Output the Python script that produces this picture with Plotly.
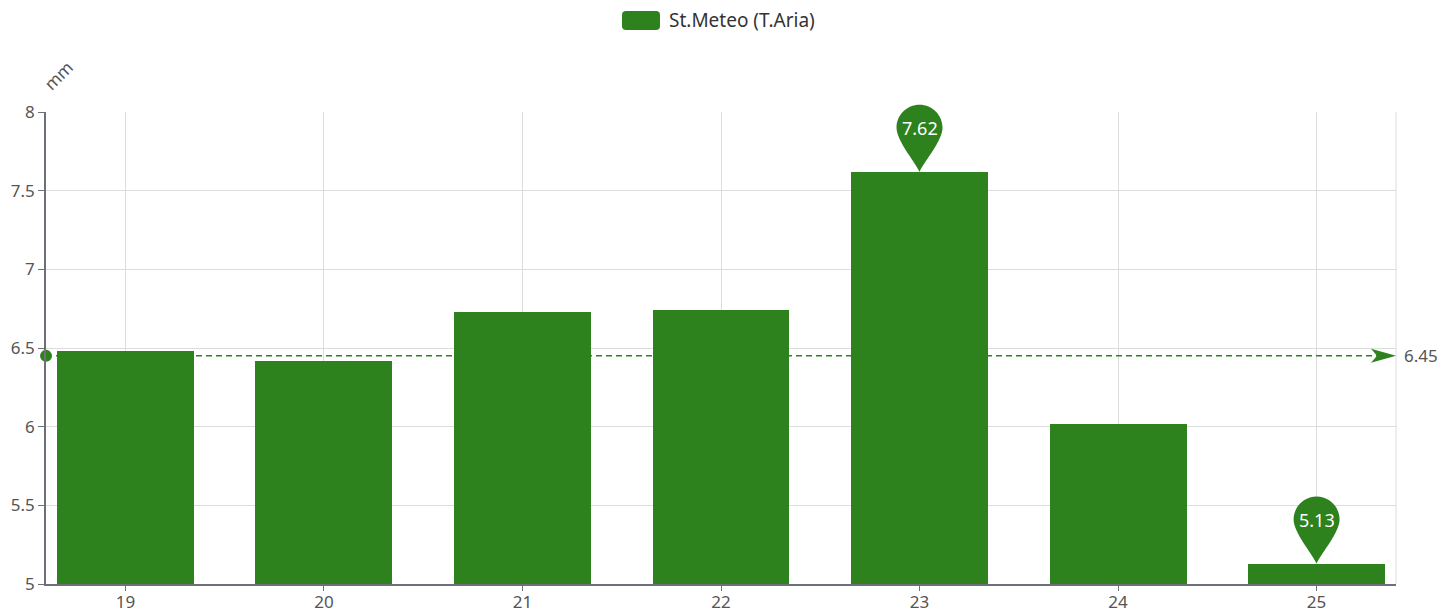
import plotly.graph_objects as go

days = [19, 20, 21, 22, 23, 24, 25]
values = [6.48, 6.42, 6.73, 6.74, 7.62, 6.02, 5.13]
series_name = "St.Meteo (T.Aria)"
y_unit = "mm"
y_ticks = [5, 5.5, 6, 6.5, 7, 7.5, 8]

GREEN = "#2E821E"
AXIS = "#6E7079"
GRID = "#DCDCDC"
FONT = "Noto Sans"

x_min, x_max = 18.6, 25.4
y_min, y_max = 5, 8
mean_val = round(sum(values) / len(values), 2)


def yfrac(v):
    return (v - y_min) / (y_max - y_min)


fig = go.Figure()
fig.add_trace(go.Bar(x=days, y=values, width=0.69, marker=dict(color=GREEN, line=dict(width=0)),
                     name=series_name, showlegend=False, hoverinfo="x+y"))

# mean line
fig.add_trace(go.Scatter(x=[x_min, x_max - 0.05], y=[mean_val, mean_val], mode="lines",
                         line=dict(color=GREEN, width=1.5, dash="6px,4px"), showlegend=False,
                         hoverinfo="skip", cliponaxis=False))
fig.add_trace(go.Scatter(x=[x_min], y=[mean_val], mode="markers",
                         marker=dict(color=GREEN, size=12), showlegend=False,
                         hoverinfo="skip", cliponaxis=False))

shapes = []
annotations = []

# arrow head at the right end of the mean line
shapes.append(dict(type="path", xref="x", yref="paper", xsizemode="pixel", ysizemode="pixel",
                   xanchor=x_max, yanchor=yfrac(mean_val),
                   path="M 0,0 L -25,7 L -19,0 L -25,-7 Z",
                   fillcolor=GREEN, line=dict(width=0), layer="above"))
annotations.append(dict(x=1, xref="paper", y=mean_val, yref="y", xshift=6, xanchor="left",
                        yanchor="middle", text=f"{mean_val:.2f}", showarrow=False,
                        font=dict(family=FONT, size=17, color="#555555")))

# pins for max and min
r, c, k = 23, 44, 0.5523
pin_path = (f"M 0,0 C {-r*0.25},{r*0.5} {-r},{c - r*0.55} {-r},{c} "
            f"C {-r},{c + k*r} {-k*r},{c + r} 0,{c + r} "
            f"C {k*r},{c + r} {r},{c + k*r} {r},{c} "
            f"C {r},{c - r*0.55} {r*0.25},{r*0.5} 0,0 Z")
i_max = values.index(max(values))
i_min = values.index(min(values))
for i in (i_max, i_min):
    shapes.append(dict(type="path", xref="x", yref="paper", xsizemode="pixel", ysizemode="pixel",
                       xanchor=days[i], yanchor=yfrac(values[i]), path=pin_path,
                       fillcolor=GREEN, line=dict(width=0), layer="above"))
    annotations.append(dict(x=days[i], y=values[i], xref="x", yref="y", yshift=c,
                            text=f"{values[i]:.2f}", showarrow=False, yanchor="middle",
                            font=dict(family=FONT, size=18, color="white")))

# right border of grid
shapes.append(dict(type="line", xref="paper", yref="paper", x0=1, x1=1, y0=0, y1=1,
                   line=dict(color=GRID, width=1), layer="below"))

# legend (manual)
shapes.append(dict(type="path", xref="paper", yref="paper", xsizemode="pixel", ysizemode="pixel",
                   xanchor=0.5, yanchor=1,
                   path="M -95,82 L -65,82 Q -61,82 -61,86 L -61,97 Q -61,101 -65,101 "
                        "L -95,101 Q -99,101 -99,97 L -99,86 Q -99,82 -95,82 Z",
                   fillcolor=GREEN, line=dict(width=0)))
annotations.append(dict(x=0.5, xref="paper", y=1, yref="paper", xshift=-54, yshift=92,
                        xanchor="left", yanchor="middle", text=series_name, showarrow=False,
                        font=dict(family=FONT, size=19, color="#333333")))

# y axis name
annotations.append(dict(x=0, xref="paper", y=1, yref="paper", xshift=12, yshift=37,
                        xanchor="center", yanchor="middle",
                        text=y_unit, textangle=-45, showarrow=False,
                        font=dict(family=FONT, size=17, color="#555555")))

fig.update_layout(
    width=1456, height=613,
    margin=dict(l=46, r=60, t=112, b=29),
    plot_bgcolor="white", paper_bgcolor="white",
    shapes=shapes, annotations=annotations,
    bargap=0,
    showlegend=False,
    font=dict(family=FONT, size=16, color="#555555"),
    xaxis=dict(range=[x_min, x_max], tickmode="array", tickvals=days,
               ticktext=[str(d) for d in days], automargin=False,
               showgrid=True, gridcolor=GRID, gridwidth=1, zeroline=False,
               showline=True, linecolor=AXIS, linewidth=1.5,
               ticks="outside", ticklen=5, tickcolor=AXIS, ticklabelstandoff=-3,
               tickfont=dict(family=FONT, size=17, color="#555555")),
    yaxis=dict(range=[y_min, y_max], tickmode="array", tickvals=y_ticks,
               ticktext=[f"{t:g}" for t in y_ticks], automargin=False,
               showgrid=True, gridcolor=GRID, gridwidth=1, zeroline=False,
               showline=True, linecolor=AXIS, linewidth=1.5,
               ticks="outside", ticklen=6, tickcolor=AXIS,
               tickfont=dict(family=FONT, size=17, color="#555555")),
)

fig.write_html("out.html", config={"displayModeBar": False},
               post_script="document.body.style.margin='0';document.body.style.overflow='hidden';")
